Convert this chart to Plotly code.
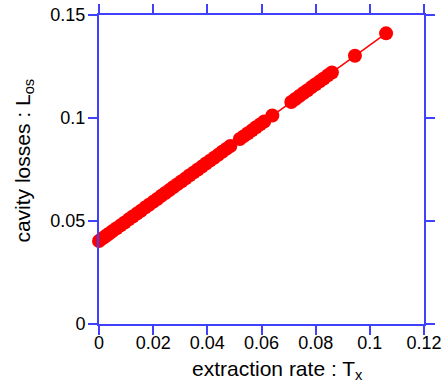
import plotly.graph_objects as go

extraction_rate = [0, 0.001, 0.002, 0.003, 0.004, 0.005, 0.0065, 0.008, 0.0095, 0.011,
                   0.0125, 0.014, 0.0155, 0.017, 0.0185, 0.02, 0.0215, 0.023, 0.0245, 0.026,
                   0.0275, 0.029, 0.0305, 0.032, 0.0335, 0.035, 0.0365, 0.038, 0.0395, 0.041,
                   0.0425, 0.044, 0.0455, 0.047, 0.0485, 0.052, 0.0535, 0.055, 0.0565, 0.058,
                   0.0595, 0.061, 0.064, 0.071, 0.0725, 0.074, 0.0755, 0.077, 0.0785, 0.08,
                   0.0815, 0.083, 0.0845, 0.086, 0.0945, 0.106]
cavity_losses = [0.0403, 0.0413, 0.0422, 0.0432, 0.0441, 0.0451, 0.0465, 0.0479, 0.0493, 0.0508,
                 0.0522, 0.0536, 0.0550, 0.0565, 0.0579, 0.0593, 0.0607, 0.0622, 0.0636, 0.0650,
                 0.0665, 0.0679, 0.0693, 0.0707, 0.0722, 0.0736, 0.0750, 0.0764, 0.0779, 0.0793,
                 0.0807, 0.0821, 0.0836, 0.0850, 0.0864, 0.0898, 0.0912, 0.0926, 0.0940, 0.0955,
                 0.0969, 0.0983, 0.1012, 0.1078, 0.1092, 0.1107, 0.1121, 0.1135, 0.1150, 0.1164,
                 0.1178, 0.1192, 0.1207, 0.1221, 0.1302, 0.1411]

x_ticks = [0, 0.02, 0.04, 0.06, 0.08, 0.1, 0.12]
x_tick_labels = ["0", "0.02", "0.04", "0.06", "0.08", "0.1", "0.12"]
y_ticks = [0, 0.05, 0.1, 0.15]
y_tick_labels = ["0", "0.05", "0.1", "0.15"]

x_title = "extraction rate : T<sub>x</sub>"
y_title = "cavity losses : L<sub>os</sub>"

axis_color = "rgb(64,64,255)"
font_family = "Liberation Sans, Arial, sans-serif"

fig = go.Figure(go.Scatter(
    x=extraction_rate, y=cavity_losses, mode="lines+markers",
    line=dict(color="rgb(255,0,0)", width=1.5),
    marker=dict(color="rgb(255,0,0)", size=14, line=dict(width=0)),
    cliponaxis=False, showlegend=False,
))

axis_common = dict(
    showline=True, linecolor=axis_color, linewidth=2, mirror="ticks",
    ticks="outside", ticklen=9, tickwidth=2, tickcolor=axis_color,
    showgrid=False, zeroline=False,
    tickfont=dict(family=font_family, size=18, color="black"),
)

fig.update_xaxes(range=[0, 0.12], tickvals=x_ticks, ticktext=x_tick_labels,
                 ticklabelstandoff=-8, **axis_common)
fig.update_yaxes(range=[0, 0.15], tickvals=y_ticks, ticktext=y_tick_labels,
                 ticklabelstandoff=-1, **axis_common)

fig.add_annotation(text=x_title, xref="paper", yref="paper", x=0.549, y=-0.1489,
                   xanchor="center", yanchor="middle", showarrow=False,
                   font=dict(family=font_family, size=21, color="black"))
fig.add_annotation(text=y_title, xref="paper", yref="paper", x=-0.232, y=0.5275,
                   xanchor="center", yanchor="middle", showarrow=False, textangle=-90,
                   font=dict(family=font_family, size=21, color="black"))

fig.update_layout(
    width=448, height=387,
    margin=dict(l=99, r=24, t=15, b=63, autoexpand=False),
    plot_bgcolor="white", paper_bgcolor="white",
    font=dict(family=font_family, color="black"),
)

fig.write_html("out.html")
